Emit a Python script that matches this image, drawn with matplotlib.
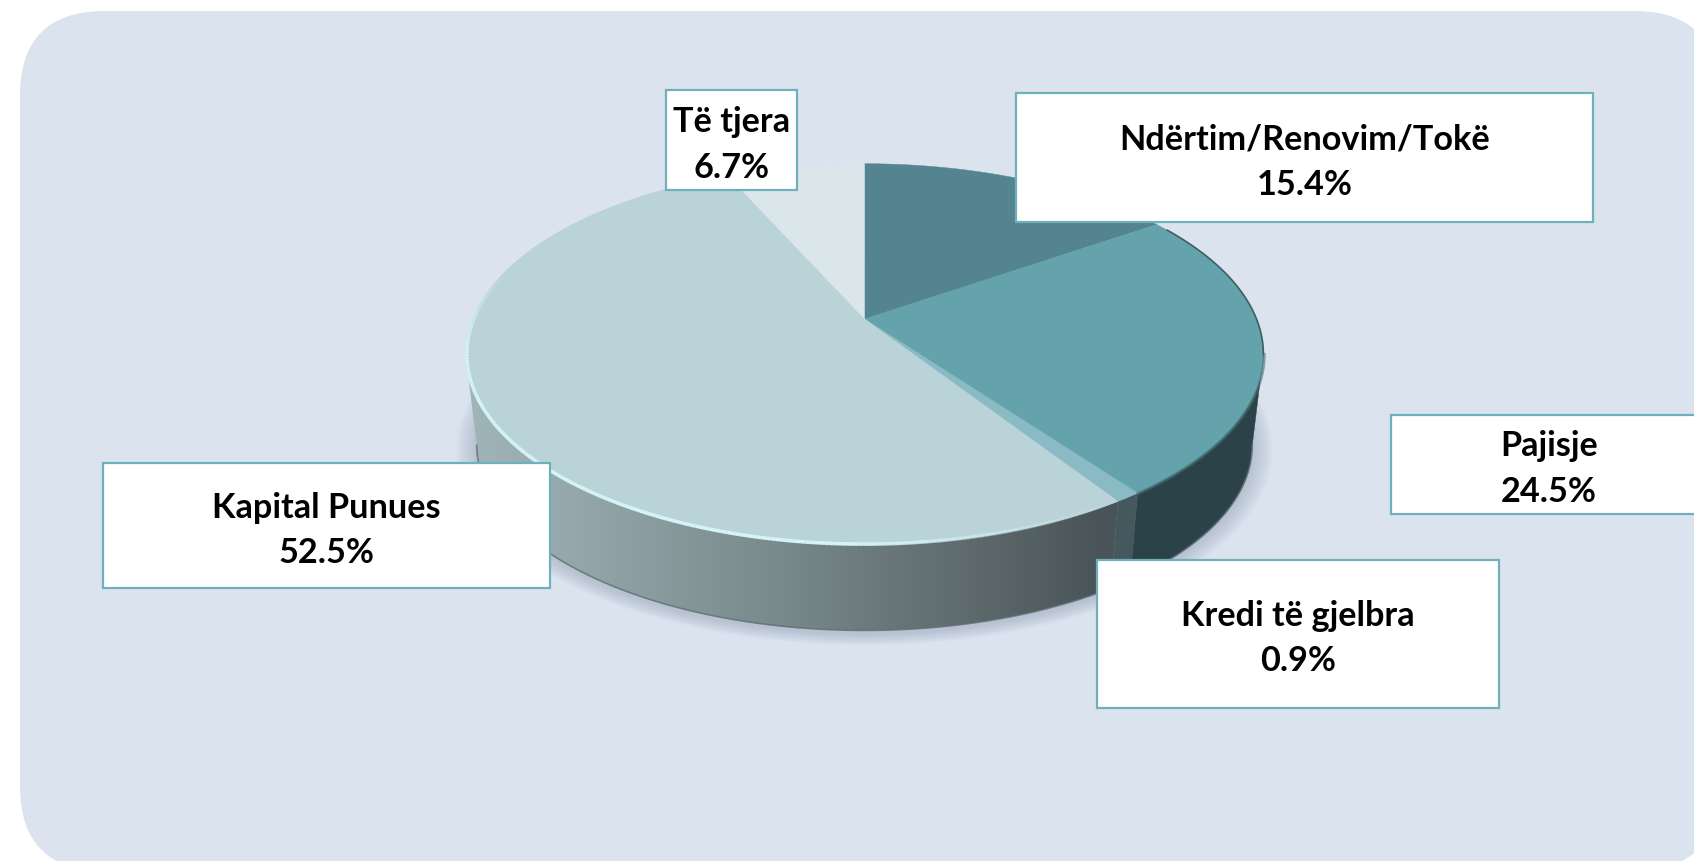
import matplotlib
matplotlib.use("Agg")
import matplotlib.pyplot as plt
import numpy as np
from matplotlib.collections import LineCollection
from matplotlib.patches import FancyBboxPatch, Polygon, Rectangle

# shares go clockwise from twelve o'clock
categories = ["Ndërtim/Renovim/Tokë", "Pajisje", "Kredi të gjelbra", "Kapital Punues", "Të tjera"]
shares = [15.4, 24.5, 0.9, 52.5, 6.7]

top_colors = ["#54848F", "#64A2AC", "#8ABAC3", "#BAD3D8", "#DAE6E9"]

# label boxes: left, top, right, bottom in pixels
boxes = [(1016, 93.5, 1593, 223), (1391, 415.5, 1707, 514.5), (1097, 560.5, 1499, 708.5),
         (103, 464, 550, 589), (666, 91, 797, 190.5)]

W, H = 1694, 862
CX, CY = 864.5, 320      # where the slices meet
R, S, K = 392, 184, 0.185   # perspective of the disc
DROP, SHRINK = 92, 0.972    # lower rim of the cylinder
SIDE_R, SIDE_L = 100.7, 259.3   # angles where the disc is widest on screen


def project(theta, scale=1.0, dy=0.0):
    # theta in degrees, clockwise from the far side of the disc
    t = np.radians(theta)
    u, v = np.sin(t), np.cos(t)
    w = 1 + K * v
    return CX + scale * R * u / w, CY - scale * S * v / w + dy


fig = plt.figure(figsize=(W / 100, H / 100), dpi=100, facecolor="white")
ax = fig.add_axes([0, 0, 1, 1])

ax.add_patch(FancyBboxPatch((105, 97), 1529, 690, boxstyle="round,pad=85,rounding_size=85",
                            fc="#DBE3EE", ec="none", zorder=1))

# soft shadow under the cylinder
angles = np.linspace(0, 360, 361)
for grow in np.arange(20, 0, -2):
    sx, sy = project(angles, SHRINK + grow / 390, DROP + 3)
    ax.add_patch(Polygon(np.column_stack([sx, sy]), fc="#7F8BA3", ec="none", alpha=0.04, zorder=2))

# side wall: flat on the dark slices, left to right gradient on the big one
stops_x = [470, 550, 740, 1000, 1100]
stops_rgb = np.array([[160, 181, 184], [152, 170, 173], [126, 143, 146], [90, 101, 104], [72, 84, 87]]) / 255
gradient = np.stack([np.interp(np.arange(W), stops_x, stops_rgb[:, c]) for c in range(3)], axis=-1)[None, :, :]

edges = np.cumsum([0] + shares) * 3.6
flat_walls = {"Pajisje": "#2A4248", "Kredi të gjelbra": "#45585E"}
for i, cat in enumerate(categories):
    lo, hi = max(edges[i], SIDE_R), min(edges[i + 1], SIDE_L)
    if hi <= lo:
        continue
    a = np.linspace(lo, hi, 200)
    x1, y1 = project(a)
    x2, y2 = project(a[::-1], SHRINK, DROP)
    pts = np.column_stack([np.r_[x1, x2], np.r_[y1, y2]])
    if cat in flat_walls:
        ax.add_patch(Polygon(pts, fc=flat_walls[cat], ec=flat_walls[cat], lw=0.3, zorder=3))
    else:
        wall = Polygon(pts, fc="none", ec="none", zorder=3, transform=ax.transData)
        ax.add_patch(wall)
        im = ax.imshow(gradient, extent=[0, W, H, 0], aspect="auto", zorder=3)
        im.set_clip_path(wall)

# darker line along the bottom of the wall
bx, by = project(np.linspace(SIDE_R, SIDE_L, 200), SHRINK, DROP)
ax.plot(bx, by, color="#5F7074", lw=1.2, alpha=0.8, zorder=4)

# top face
for i in range(len(shares)):
    a = np.linspace(edges[i], edges[i + 1], max(int(shares[i] * 8), 8))
    x, y = project(a)
    pts = np.column_stack([np.r_[CX, x], np.r_[CY, y]])
    ax.add_patch(Polygon(pts, fc=top_colors[i], ec=top_colors[i], lw=0.3, zorder=5))

# bevel on the rim: pale on the big slice, dark on the right
a = np.linspace(edges[3], 285, 300)
x, y = project(a, 0.997)
pts = np.column_stack([x, y]).reshape(-1, 1, 2)
segs = np.concatenate([pts[:-1], pts[1:]], axis=1)
fade = np.clip((a[:-1] - edges[3]) / 35, 0, 1) * np.clip((285 - a[:-1]) / 25, 0, 1)
ax.add_collection(LineCollection(segs, colors=[(0.84, 0.96, 0.97, f) for f in fade],
                                 linewidths=2.6, zorder=6))

a = np.linspace(SIDE_R, edges[2], 100)
x, y = project(a, 1.002)
ax.plot(x, y, color="#4A7078", lw=2.2, alpha=0.6, zorder=6)

a = np.linspace(58, SIDE_R, 100)
x, y = project(a)
ax.plot(x, y, color="#3E5F66", lw=1.2, zorder=6)

# labels
for cat, share, (x0, y0, x1, y1) in zip(categories, shares, boxes):
    ax.add_patch(Rectangle((x0, y0), x1 - x0, y1 - y0, fc="white", ec="#6FB0BA", lw=1.6, zorder=10))
    ax.text((x0 + x1) / 2, (y0 + y1) / 2 + 4, f"{cat}\n{share}%", ha="center", va="center",
            family="Lato", weight="bold", fontsize=24.7, color="black", linespacing=1.52, zorder=11)

ax.set_xlim(0, W)
ax.set_ylim(H, 0)
ax.axis("off")

fig.savefig("out.png", dpi=100)
